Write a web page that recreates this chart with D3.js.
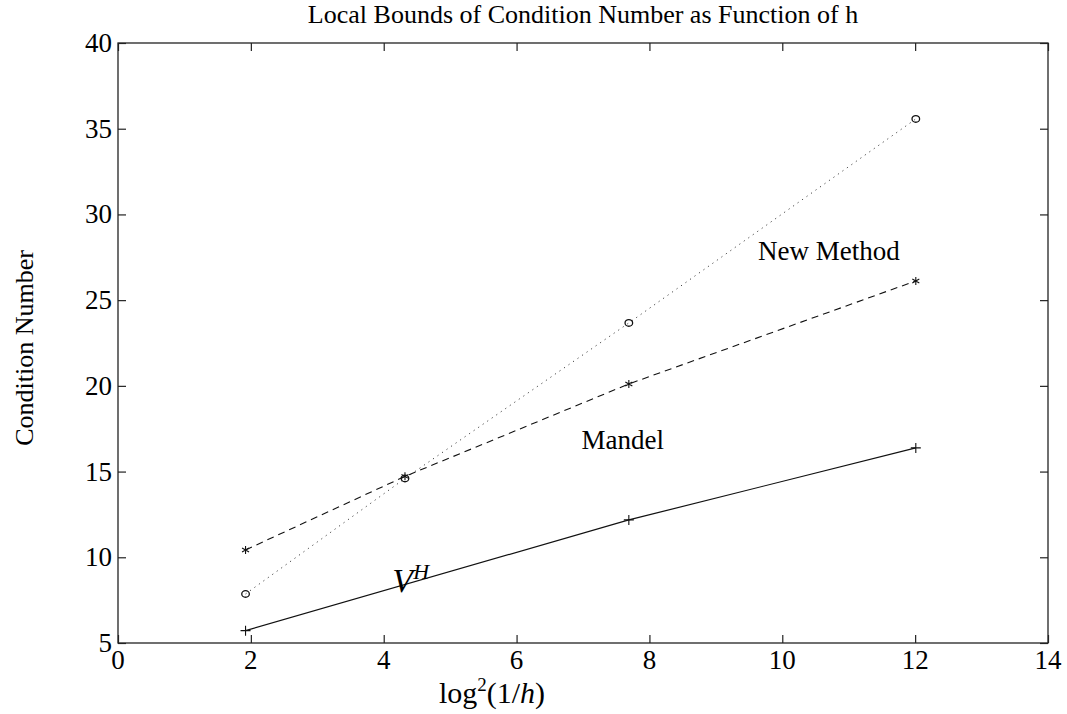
<!DOCTYPE html>
<html><head><meta charset="utf-8">
<script src="https://cdn.jsdelivr.net/npm/d3@7"></script>
<style>body{margin:0;background:#fff}svg{display:block}text{font-family:"Liberation Serif","Times New Roman",serif}</style>
</head><body>
<script>
const xTicks = [0, 2, 4, 6, 8, 10, 12, 14];
const yTicks = [5, 10, 15, 20, 25, 30, 35, 40];
const xCircle = [1.92, 4.32, 7.69, 12.01];
const yCircle = [7.86, 14.6, 23.67, 35.57];
const xStar = [1.92, 4.32, 7.69, 12.01];
const yStar = [10.43, 14.72, 20.11, 26.12];
const xPlus = [1.92, 7.69, 12.01];
const yPlus = [5.72, 12.18, 16.38];
const annotations = [
  {text: "New Method", x: 10.7, y: 27.35},
  {text: "Mandel", x: 7.6, y: 16.3}
];

const W = 1067, H = 714;
const m = {left: 118, right: 1048, top: 43, bottom: 643};
const svg = d3.select("body").append("svg").attr("width", W).attr("height", H);
const x = d3.scaleLinear().domain([0, 14]).range([m.left, m.right]);
const y = d3.scaleLinear().domain([5, 40]).range([m.bottom, m.top]);

// frame
svg.append("rect").attr("x", m.left).attr("y", m.top)
  .attr("width", m.right - m.left).attr("height", m.bottom - m.top)
  .attr("fill", "none").attr("stroke", "#222").attr("stroke-width", 1.3);

const tl = 8;
const axB = svg.append("g").attr("transform", `translate(0,${m.bottom})`)
  .call(d3.axisTop(x).tickValues(xTicks).tickSize(tl).tickFormat(""));
const axT = svg.append("g").attr("transform", `translate(0,${m.top})`)
  .call(d3.axisBottom(x).tickValues(xTicks).tickSize(tl).tickFormat(""));
const axL = svg.append("g").attr("transform", `translate(${m.left},0)`)
  .call(d3.axisRight(y).tickValues(yTicks).tickSize(tl).tickFormat(""));
const axR = svg.append("g").attr("transform", `translate(${m.right},0)`)
  .call(d3.axisLeft(y).tickValues(yTicks).tickSize(tl).tickFormat(""));
[axB, axT, axL, axR].forEach(a => {
  a.select(".domain").remove();
  a.selectAll("line").attr("stroke", "#222").attr("stroke-width", 1.2);
});

// tick labels
svg.append("g").selectAll("text").data(xTicks).join("text")
  .attr("x", d => x(d)).attr("y", m.bottom + 26)
  .attr("text-anchor", "middle").attr("font-size", 27).text(d => d);
svg.append("g").selectAll("text").data(yTicks).join("text")
  .attr("x", m.left - 6).attr("y", d => y(d) + 9)
  .attr("text-anchor", "end").attr("font-size", 27).text(d => d);

// title & labels
svg.append("text").attr("x", 583).attr("y", 23).attr("text-anchor", "middle")
  .attr("font-size", 26).text("Local Bounds of Condition Number as Function of h");
svg.append("text").attr("transform", "translate(33,348) rotate(-90)")
  .attr("text-anchor", "middle").attr("font-size", 26).text("Condition Number");
const xl = svg.append("text").attr("x", 492).attr("y", 703).attr("text-anchor", "middle")
  .attr("font-size", 30);
xl.append("tspan").text("log");
xl.append("tspan").attr("font-size", 19).attr("dy", -12).text("2");
xl.append("tspan").attr("dy", 12).text("(1/");
xl.append("tspan").attr("font-style", "italic").text("h");
xl.append("tspan").text(")");

// lines
const line = d3.line().x(d => x(d[0])).y(d => y(d[1]));
const circ = d3.zip(xCircle, yCircle), star = d3.zip(xStar, yStar), plus = d3.zip(xPlus, yPlus);
svg.append("path").attr("d", line(circ)).attr("fill", "none").attr("stroke", "#444")
  .attr("stroke-width", 1).attr("stroke-dasharray", "1.2,4.3");
svg.append("path").attr("d", line(star)).attr("fill", "none").attr("stroke", "#111")
  .attr("stroke-width", 1.1).attr("stroke-dasharray", "7,5");
svg.append("path").attr("d", line(plus)).attr("fill", "none").attr("stroke", "#111")
  .attr("stroke-width", 1.2);

// markers
svg.append("g").selectAll("ellipse").data(circ).join("ellipse")
  .attr("cx", d => x(d[0])).attr("cy", d => y(d[1])).attr("rx", 3.8).attr("ry", 3.3)
  .attr("fill", "none").attr("stroke", "#111").attr("stroke-width", 1.3);
const starPath = "M0,-4V4M-3.5,-2L3.5,2M-3.5,2L3.5,-2";
svg.append("g").selectAll("path").data(star).join("path")
  .attr("transform", d => `translate(${x(d[0])},${y(d[1])})`)
  .attr("d", starPath).attr("stroke", "#111").attr("stroke-width", 1.1).attr("fill", "none");
svg.append("g").selectAll("path").data(plus).join("path")
  .attr("transform", d => `translate(${x(d[0])},${y(d[1])})`)
  .attr("d", "M-5,0H5M0,-5V5").attr("stroke", "#111").attr("stroke-width", 1.1);

// annotations
svg.append("g").selectAll("text").data(annotations).join("text")
  .attr("x", d => x(d.x)).attr("y", d => y(d.y)).attr("text-anchor", "middle")
  .attr("font-size", 27).text(d => d.text);
const vh = svg.append("text").attr("x", x(4.13)).attr("y", y(8.0)).attr("font-size", 34)
  .attr("font-style", "italic");
vh.append("tspan").text("V");
vh.append("tspan").attr("font-size", 22).attr("dy", -13).text("H");
</script>
</body></html>
